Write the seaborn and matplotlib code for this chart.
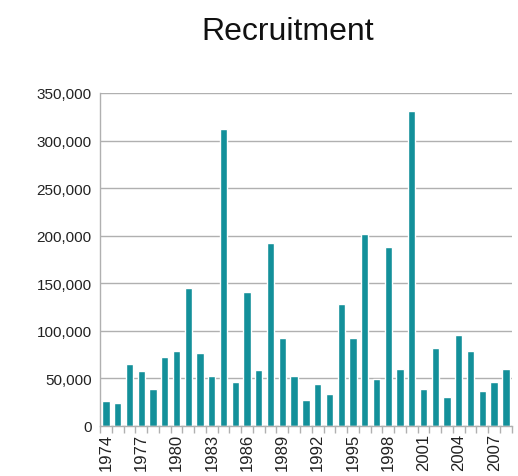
import matplotlib
matplotlib.use("Agg")
import matplotlib.pyplot as plt
import seaborn as sns
import pandas as pd
import numpy as np
from matplotlib.ticker import FuncFormatter, FixedLocator

years = list(range(1974, 2009))
recruitment = [26300, 24500, 65600, 57900, 38600, 72900, 78900, 145500, 76400, 52200,
               312000, 46300, 141000, 59300, 192100, 92600, 52200, 27000, 44500, 33300,
               128000, 92200, 201600, 49800, 188300, 60300, 331300, 38600, 82400, 30500,
               95400, 79200, 36800, 46600, 59600]

df = pd.DataFrame({'year': [str(y) for y in years], 'recruitment': recruitment})

sns.set_style('white')
plt.rcParams['font.family'] = ['Liberation Sans Narrow', 'Liberation Sans', 'DejaVu Sans']

fig = plt.figure(figsize=(5.18, 4.77), dpi=100)
ax = fig.add_axes([0.193, 0.105, 0.795, 0.698])

sns.barplot(x='year', y='recruitment', data=df, color='#13909a', saturation=1,
            width=0.62, ax=ax)

ax.set_ylim(0, 350000)
ax.set_xlim(-0.5, len(years) - 0.5)
ax.set_yticks(np.arange(0, 350001, 50000))
ax.yaxis.set_major_formatter(FuncFormatter(lambda v, p: f'{int(v):,}'))
ax.grid(axis='y', color='#b0b0b0', linewidth=1.0)
ax.set_axisbelow(True)

ax.set_xticks(range(0, len(years), 3))
ax.set_xticklabels([str(y) for y in years[::3]], rotation=90)
ax.xaxis.set_minor_locator(FixedLocator(np.arange(-0.5, len(years), 1)))
ax.tick_params(axis='x', which='major', length=0, pad=5, labelsize=12, colors='#222222')
ax.tick_params(axis='x', which='minor', length=5, width=1, color='#b0b0b0', bottom=True)
ax.tick_params(axis='y', length=0, labelsize=11, colors='#222222', pad=6)

for s in ['top', 'right']:
    ax.spines[s].set_visible(False)
for s in ['left', 'bottom']:
    ax.spines[s].set_color('#b0b0b0')
    ax.spines[s].set_linewidth(1.0)

ax.set_xlabel('')
ax.set_ylabel('')
fig.text(0.556, 0.932, 'Recruitment', ha='center', va='center', fontsize=23, color='#111111')

plt.savefig('out.png', dpi=100)
